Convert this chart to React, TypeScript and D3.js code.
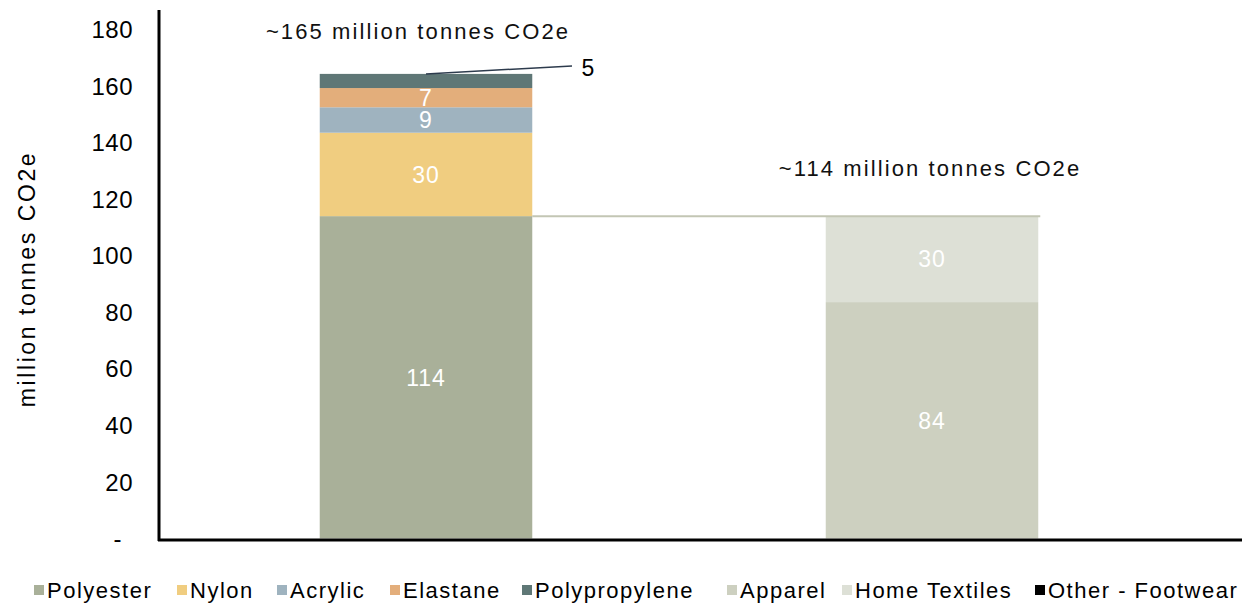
import React from "react";
import * as d3 from "d3";

const categories = ["Fibre type", "End use"];
const fibreSeries = ["Polyester", "Nylon", "Acrylic", "Elastane", "Polypropylene"];
const fibreValues = [114, 29.5, 9, 6.8, 5];
const endUseSeries = ["Apparel", "Home Textiles"];
const endUseValues = [83.6, 30.4];
const legendLabels = ["Polyester", "Nylon", "Acrylic", "Elastane", "Polypropylene", "Apparel", "Home Textiles", "Other - Footwear"];
const legendColors = ["#a9b099", "#f0cd80", "#9fb3bf", "#e3ae7b", "#5f7776", "#cdd0c0", "#dde0d6", "#000000"];
const yTicks = [0, 20, 40, 60, 80, 100, 120, 140, 160, 180];
const totalLabels = ["~165 million tonnes CO2e", "~114 million tonnes CO2e"];

const W = 1244;
const H = 605;
const FONT = "'Liberation Sans', Arial, sans-serif";

const colorOf = (name: string) => legendColors[legendLabels.indexOf(name)];

export default function App() {
  const y = d3.scaleLinear().domain([0, 180]).range([538.5, 29.5]);
  const x = d3.scaleBand<string>().domain(categories).range([173, 1185]).paddingInner(0.58).paddingOuter(0.29);
  const bw = x.bandwidth();

  const stackOf = (names: string[], vals: number[]) => {
    let acc = 0;
    return names.map((n, i) => {
      const y0 = acc;
      acc += vals[i];
      return { name: n, v: vals[i], y0, y1: acc };
    });
  };
  const fibre = stackOf(fibreSeries, fibreValues);
  const endUse = stackOf(endUseSeries, endUseValues);
  const fibreTotal = d3.sum(fibreValues);
  const endTotal = d3.sum(endUseValues);
  const x0 = x(categories[0])!;
  const x1 = x(categories[1])!;

  const legendX = [47, 190, 290, 403, 535, 740, 855, 1048];

  return (
    <svg width={W} height={H} style={{ position: "absolute", left: 0, top: 0, background: "#fff" }} fontFamily={FONT}>
      {fibre.map((s) => (
        <rect key={s.name} x={x0} width={bw} y={y(s.y1)} height={y(s.y0) - y(s.y1)} fill={colorOf(s.name)} />
      ))}
      {endUse.map((s) => (
        <rect key={s.name} x={x1} width={bw} y={y(s.y1)} height={y(s.y0) - y(s.y1)} fill={colorOf(s.name)} />
      ))}
      {/* connector line */}
      <line x1={x0 + bw} x2={x1 + bw + 2} y1={y(endTotal)} y2={y(endTotal)} stroke="#c3c6b4" strokeWidth={2} />
      {/* labels inside */}
      {fibre.slice(0, 4).map((s) => (
        <text key={s.name} x={x0 + bw / 2} y={(y(s.y0) + y(s.y1)) / 2} dy="0.36em" textAnchor="middle" fill="#fff" fontSize={23} letterSpacing={1}>
          {Math.round(s.v)}
        </text>
      ))}
      {endUse.map((s) => (
        <text key={s.name} x={x1 + bw / 2} y={(y(s.y0) + y(s.y1)) / 2} dy="0.36em" textAnchor="middle" fill="#fff" fontSize={23} letterSpacing={1}>
          {Math.round(s.v)}
        </text>
      ))}
      {/* polypropylene callout */}
      <line x1={x0 + bw / 2} y1={y(fibreTotal)} x2={572} y2={y(fibreTotal) - 8} stroke="#2d3b4d" strokeWidth={1.5} />
      <text x={588} y={y(fibreTotal) - 6} dy="0.36em" textAnchor="middle" fontSize={23} fill="#000">
        {Math.round(fibre[4].v)}
      </text>
      {/* totals */}
      <text x={418} y={31} dy="0.36em" textAnchor="middle" fontSize={22} letterSpacing={2.1} fill="#111">{totalLabels[0]}</text>
      <text x={930} y={168} dy="0.36em" textAnchor="middle" fontSize={22} letterSpacing={2.1} fill="#111">{totalLabels[1]}</text>
      {/* axes */}
      <line x1={159} x2={159} y1={10} y2={541} stroke="#000" strokeWidth={3} />
      <line x1={158} x2={1242} y1={540} y2={540} stroke="#000" strokeWidth={3} />
      {yTicks.map((t) => (
        <text key={t} x={t === 0 ? 122 : 133} y={y(t)} dy="0.36em" textAnchor="end" fontSize={24} letterSpacing={0.5} fill="#000">
          {t === 0 ? "-" : t}
        </text>
      ))}
      <text transform={`translate(27,${279}) rotate(-90)`} textAnchor="middle" dy="0.36em" fontSize={23} letterSpacing={2.6} fill="#000">
        million tonnes CO2e
      </text>
      {/* legend */}
      {legendLabels.map((l, i) => (
        <g key={l} transform={`translate(${legendX[i]},590)`}>
          <rect x={-13} y={-5} width={10} height={10} fill={legendColors[i]} />
          <text x={0} y={0} dy="0.36em" fontSize={22} letterSpacing={1.5} fill="#000">{l}</text>
        </g>
      ))}
    </svg>
  );
}
